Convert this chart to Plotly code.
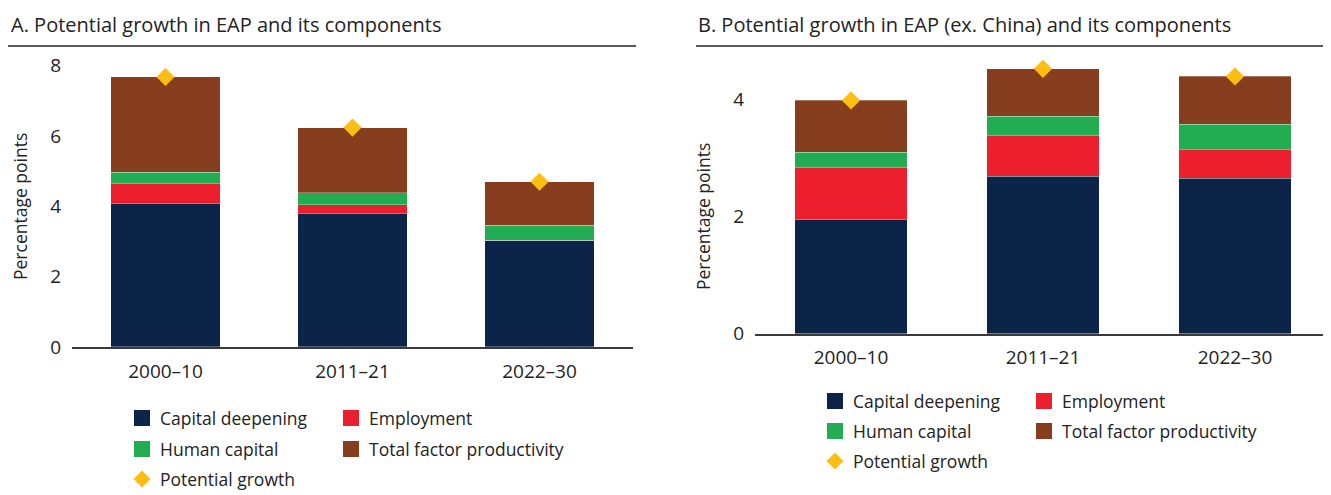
import plotly.graph_objects as go

# The page body adds an 8px margin; build the figure 8px smaller and offset coordinates
W, H = 1331, 495
OFF = 8
FW, FH = W - OFF, H - OFF

# ---------------- data ----------------
periods = ["2000–10", "2011–21", "2022–30"]

# Panel A: EAP
a_capital = [4.08, 3.81, 3.04]
a_employment = [0.56, 0.23, 0.0]
a_human = [0.33, 0.35, 0.42]
a_tfp = [2.71, 1.85, 1.24]
a_potential = [7.68, 6.24, 4.70]

# Panel B: EAP excluding China
b_capital = [1.95, 2.69, 2.65]
b_employment = [0.88, 0.69, 0.49]
b_human = [0.27, 0.33, 0.43]
b_tfp = [0.88, 0.81, 0.82]
b_potential = [3.98, 4.52, 4.39]

a_ticks = [0, 2, 4, 6, 8]
b_ticks = [0, 2, 4]

component_names = ["Capital deepening", "Employment", "Human capital", "Total factor productivity"]
potential_name = "Potential growth"

# ---------------- style ----------------
NAVY = "#0C2447"
RED = "#EB1F2E"
GREEN = "#22AD52"
BROWN = "#873E1E"
GOLD = "#FDBE14"
TEXT = "#232323"
FONT = "Open Sans"
comp_colors = [NAVY, RED, GREEN, BROWN]


def px_x(x):
    return (x - OFF) / FW


def px_y(y):
    return 1 - (y - OFF) / FH


fig = go.Figure()

panels = [
    ("x", "y", [a_capital, a_employment, a_human, a_tfp], a_potential),
    ("x2", "y2", [b_capital, b_employment, b_human, b_tfp], b_potential),
]
for xa, ya, comps, pot in panels:
    for name, vals, col in zip(component_names, comps, comp_colors):
        fig.add_trace(go.Bar(
            x=periods, y=vals, name=name, xaxis=xa, yaxis=ya,
            marker=dict(color=col, line=dict(color="rgba(255,255,255,0.35)", width=0.8)),
            showlegend=False, hoverinfo="skip",
        ))
    fig.add_trace(go.Scatter(
        x=periods, y=pot, name=potential_name, xaxis=xa, yaxis=ya, mode="markers",
        marker=dict(symbol="diamond", size=14, color=GOLD, line=dict(width=0)),
        cliponaxis=False, showlegend=False, hoverinfo="skip",
    ))

tickfont = dict(family=FONT, size=19, color=TEXT)
xcommon = dict(
    showgrid=False, zeroline=False, showline=True, linecolor="#3a3a3a", linewidth=1.5,
    ticks="", tickfont=tickfont, ticklabelstandoff=6, fixedrange=True, automargin=False,
)
ycommon = dict(
    showgrid=False, zeroline=False, showline=False, ticks="", tickfont=tickfont,
    ticklabelstandoff=10, fixedrange=True, automargin=False,
)

fig.update_layout(
    width=FW, height=FH,
    margin=dict(l=0, r=0, t=0, b=0, pad=0, autoexpand=False),
    paper_bgcolor="white", plot_bgcolor="white",
    barmode="stack", bargap=0.413,
    font=dict(family=FONT, color=TEXT),
    xaxis=dict(domain=[px_x(72), px_x(633)], anchor="y", range=[-0.5, 2.5], **xcommon),
    yaxis=dict(domain=[px_y(347), px_y(65.7)], anchor="x", range=[0, 8],
               tickvals=a_ticks, **ycommon),
    xaxis2=dict(domain=[px_x(755), 1.0], anchor="y2", range=[-0.5, 2.5], **xcommon),
    yaxis2=dict(domain=[px_y(333.7), px_y(64.1)], anchor="x2", range=[0, 4.6],
                tickvals=b_ticks, **ycommon),
)

shapes = []
annotations = []

# Panel titles and underline rules
titles = [
    ("A. Potential growth in EAP and its components", 9, 8, 636),
    ("B. Potential growth in EAP (ex. China) and its components", 696, 696, 1331),
]
for text, tx, lx0, lx1 in titles:
    annotations.append(dict(
        text=text, x=px_x(tx), y=px_y(24), xref="paper", yref="paper",
        xanchor="left", yanchor="middle", showarrow=False,
        font=dict(family=FONT, size=20, color=TEXT),
    ))
    shapes.append(dict(type="line", xref="paper", yref="paper",
                       x0=px_x(lx0), x1=px_x(lx1), y0=px_y(46), y1=px_y(46),
                       line=dict(color="#222222", width=1.3)))

# Y-axis titles
for xc, yc in [(20, 207), (703, 217)]:
    annotations.append(dict(
        text="Percentage points", x=px_x(xc), y=px_y(yc), xref="paper", yref="paper",
        xanchor="center", yanchor="middle", showarrow=False, textangle=-90,
        font=dict(family=FONT, size=17.5, color=TEXT),
    ))

# Legends (two columns, three rows)
legend_layouts = [
    # col1 square x, col2 square x, row centres
    (134, 343, [418, 449, 479]),
    (827, 1036, [401, 431, 461]),
]
entry_grid = [
    (component_names[0], NAVY, 0, 0, "sq"),
    (component_names[1], RED, 1, 0, "sq"),
    (component_names[2], GREEN, 0, 1, "sq"),
    (component_names[3], BROWN, 1, 1, "sq"),
    (potential_name, GOLD, 0, 2, "dia"),
]
for c1, c2, rows in legend_layouts:
    for name, col, ci, ri, kind in entry_grid:
        sx = c1 if ci == 0 else c2
        cy = rows[ri]
        if kind == "sq":
            shapes.append(dict(type="rect", xref="paper", yref="paper",
                               x0=px_x(sx), x1=px_x(sx + 16), y0=px_y(cy + 8), y1=px_y(cy - 8),
                               fillcolor=col, line=dict(width=0)))
        else:
            cx = sx + 8
            r = 8.5
            path = "M {} {} L {} {} L {} {} L {} {} Z".format(
                px_x(cx), px_y(cy - r), px_x(cx + r), px_y(cy),
                px_x(cx), px_y(cy + r), px_x(cx - r), px_y(cy))
            shapes.append(dict(type="path", xref="paper", yref="paper", path=path,
                               fillcolor=col, line=dict(width=0)))
        annotations.append(dict(
            text=name, x=px_x(sx + 24), y=px_y(cy), xref="paper", yref="paper",
            xanchor="left", yanchor="middle", showarrow=False,
            font=dict(family=FONT, size=17.5, color=TEXT),
        ))

fig.update_layout(shapes=shapes, annotations=annotations)

fig.write_html("out.html")
